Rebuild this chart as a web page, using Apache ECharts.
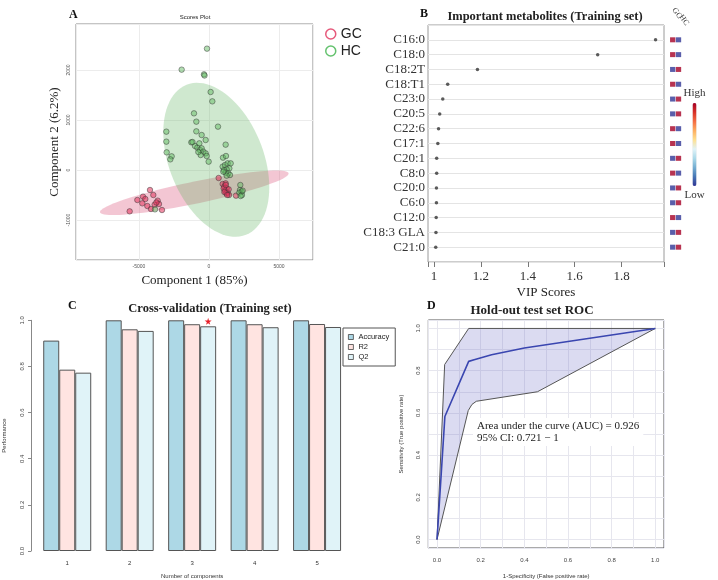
<!DOCTYPE html>
<html>
<head>
<meta charset="utf-8">
<script src="https://cdn.jsdelivr.net/npm/echarts@6/dist/echarts.min.js"></script>
<style>
html,body{margin:0;padding:0;background:#fff}
#main{width:718px;height:580px}
</style>
</head>
<body>
<div id="main"></div>
<script>
// ---- A: scores plot (component 1, component 2) ----
var gcScores = [[-5667,-827],[-5119,-600],[-4714,-533],[-4548,-580],[-4214,-400],[-3976,-500],[-4762,-667],
    [-4405,-720],[-4143,-780],[-3881,-693],[-3667,-613],[-3571,-680],[-3357,-800],[-3760,-650],
    [690,-160],[976,-280],[1095,-333],[1190,-267],[1262,-367],[1143,-413],[1333,-453],[1405,-387],
    [1238,-467],[1048,-367],[1429,-500],[1929,-513],[1100,-440],[1300,-500],[1200,-300]];
var hcScores = [[-143,2427],[-1952,2007],[-357,1913],[-320,1890],[119,1560],[238,1373],[-1071,1133],
    [-905,967],[643,867],[-905,773],[-524,700],[-238,600],[-3048,767],[-3048,567],[-3024,353],
    [-2667,273],[-2762,213],[-1262,553],[-1000,480],[-833,447],[-690,533],[-643,400],[-524,433],
    [-405,367],[-595,300],[-238,333],[-167,280],[-24,167],[1190,507],[1000,247],[1214,280],
    [976,67],[1143,100],[1333,133],[1548,133],[1452,33],[1262,13],[1071,0],[1190,-53],[1381,-67],
    [1500,-100],[1262,-113],[1024,-33],[2238,-300],[2214,-400],[2333,-433],[2167,-453],[2357,-500],
    [2262,-520],[2405,-413],[-3857,-787],[-1180,560],[-760,360]];
// 95% ellipses: centre, semi-major vector, semi-minor vector (data units)
var gcEllipse = {center: [-1050, -456], major: [6736, 390], minor: [157, -216]};
var hcEllipse = {center: [521, 204], major: [2121, -1500], minor: [3136, 348]};

// ---- B: VIP scores ----
var metabolites = ['C16:0','C18:0','C18:2T','C18:T1','C23:0','C20:5','C22:6','C17:1','C20:1','C8:0','C20:0','C6:0','C12:0','C18:3 GLA','C21:0'];
var vipScores = [1.945,1.698,1.185,1.058,1.037,1.024,1.019,1.016,1.011,1.011,1.010,1.010,1.009,1.008,1.007];
var gcLevel = [1,1,0,1,0,0,1,1,0,1,0,0,1,0,0];   // 1 = high, 0 = low
var hcLevel = [0,0,1,0,1,1,0,0,1,0,1,1,0,1,1];

// ---- C: cross validation ----
var components = ['1','2','3','4','5'];
var accuracy = [0.912,1.0,1.0,1.0,1.0];
var r2 = [0.786,0.961,0.983,0.983,0.984];
var q2 = [0.773,0.954,0.974,0.970,0.971];

// ---- D: ROC ----
var rocFpr = [0,0.036,0.145,0.17,0.25,0.4,0.6,0.8,1];
var rocTpr = [0,0.583,0.844,0.852,0.875,0.907,0.938,0.969,1];
var ciUpperFpr = [0,0.035,0.145,1];
var ciUpperTpr = [0,0.829,1,1];
var ciLowerFpr = [0,0.143,0.16,0.18,0.46,1];
var ciLowerTpr = [0,0.611,0.64,0.655,0.70,1];

var SERIF = '"Liberation Serif", "Times New Roman", serif';
var SANS = '"Liberation Sans", Arial, sans-serif';

function pairs(xs, ys) {
    return xs.map(function (x, i) { return [x, ys[i]]; });
}

// ellipse drawn through the axes of the grid
function ellipseSeries(e, color) {
    return {
        type: 'custom', xAxisIndex: 0, yAxisIndex: 0, silent: true, z: 1,
        data: [e.center],
        renderItem: function (params, api) {
            var pts = [];
            for (var k = 0; k <= 90; k++) {
                var t = k / 90 * Math.PI * 2;
                pts.push(api.coord([
                    e.center[0] + Math.cos(t) * e.major[0] + Math.sin(t) * e.minor[0],
                    e.center[1] + Math.cos(t) * e.major[1] + Math.sin(t) * e.minor[1]
                ]));
            }
            return {type: 'polygon', shape: {points: pts}, style: {fill: color}};
        }
    };
}

// hide labels that are not on the wanted step
function stepLabel(step, digits) {
    return function (v) {
        var r = v / step;
        if (Math.abs(r - Math.round(r)) > 1e-6) return '';
        return digits == null ? String(Math.round(v)) : v.toFixed(digits);
    };
}

var padRows = [''].concat(metabolites).concat(['']);
var cellData = [];
metabolites.forEach(function (m, i) {
    cellData.push(['GC', m, gcLevel[i]]);
    cellData.push(['HC', m, hcLevel[i]]);
});

var band = pairs(ciUpperFpr, ciUpperTpr).concat(pairs(ciLowerFpr, ciLowerTpr).reverse());

var mchart = echarts.init(document.getElementById('main'));
var option = {
    animation: false,
    backgroundColor: '#fff',
    grid: [
        {left: 76, top: 24, width: 237, height: 236, show: true, borderColor: '#8a8a8a', borderWidth: 1},   // A
        {left: 428, top: 25, width: 236, height: 237, show: true, borderColor: '#9a9a9a', borderWidth: 1},  // B
        {left: 669.8, top: 25, width: 11.6, height: 237},                                                   // B cells
        {left: 31.8, top: 320.3, width: 316.5, height: 230.7},                                              // C
        {left: 428.3, top: 320, width: 235.7, height: 228.3, show: true, borderColor: '#555', borderWidth: 1} // D
    ],
    xAxis: [
        {gridIndex: 0, type: 'value', min: -9500, max: 7430, splitNumber: 3,
            name: 'Component 1 (85%)', nameLocation: 'middle', nameGap: 14,
            nameTextStyle: {fontFamily: SERIF, fontSize: 13, color: '#222'},
            axisLine: {show: false}, axisTick: {show: false},
            axisLabel: {fontSize: 5, color: '#555', margin: 4, formatter: stepLabel(5000)},
            splitLine: {lineStyle: {color: '#ececec'}}},
        {gridIndex: 1, type: 'value', min: 0.974, max: 1.981, splitNumber: 5,
            name: 'VIP Scores', nameLocation: 'middle', nameGap: 24,
            nameTextStyle: {fontFamily: SERIF, fontSize: 13, color: '#222'},
            axisLine: {show: false}, axisTick: {show: true, length: 5, lineStyle: {color: '#777'}},
            axisLabel: {fontFamily: SERIF, fontSize: 13, color: '#333', margin: 8, formatter: function (v) {
                var r = v / 0.2;
                if (Math.abs(r - Math.round(r)) > 1e-6) return '';
                return Math.abs(v - 1) < 1e-6 ? '1' : v.toFixed(1);
            }},
            splitLine: {show: false}},
        {gridIndex: 2, type: 'category', data: ['GC', 'HC'], show: false},
        {gridIndex: 3, type: 'category', data: components,
            name: 'Number of components', nameLocation: 'middle', nameGap: 22,
            nameTextStyle: {fontFamily: SANS, fontSize: 6, color: '#333'},
            axisLine: {show: false}, axisTick: {show: false},
            axisLabel: {fontFamily: SANS, fontSize: 6, color: '#333', margin: 9}},
        {gridIndex: 4, type: 'value', min: -0.04, max: 1.04, splitNumber: 10,
            name: '1-Specificity (False positive rate)', nameLocation: 'middle', nameGap: 25,
            nameTextStyle: {fontFamily: SANS, fontSize: 6, color: '#333'},
            axisLine: {show: false}, axisTick: {show: false},
            axisLabel: {fontFamily: SANS, fontSize: 6, color: '#444', margin: 9, formatter: stepLabel(0.2, 1)},
            splitLine: {lineStyle: {color: '#e6e6ee'}}}
    ],
    yAxis: [
        {gridIndex: 0, type: 'value', min: -1800, max: 2920, splitNumber: 4,
            name: 'Component 2 (6.2%)', nameLocation: 'middle', nameGap: 15,
            nameTextStyle: {fontFamily: SERIF, fontSize: 13, color: '#222'},
            axisLine: {show: false}, axisTick: {show: false},
            axisLabel: {fontSize: 5, color: '#555', margin: 5, rotate: 90, formatter: stepLabel(1000)},
            splitLine: {lineStyle: {color: '#ececec'}}},
        {gridIndex: 1, type: 'category', data: padRows, boundaryGap: false, inverse: true,
            axisLine: {show: false}, axisTick: {show: false},
            axisLabel: {fontFamily: SERIF, fontSize: 13, color: '#333', margin: 3, interval: 0},
            splitLine: {show: true, interval: 0, lineStyle: {color: '#e4e4e4'}}},
        {gridIndex: 2, type: 'category', data: padRows, boundaryGap: false, inverse: true, show: false},
        {gridIndex: 3, type: 'value', min: 0, max: 1, interval: 0.2, offset: 5,
            name: 'Performance', nameLocation: 'middle', nameGap: 24,
            nameTextStyle: {fontFamily: SANS, fontSize: 6, color: '#333'},
            axisLine: {show: true, lineStyle: {color: '#888'}},
            axisTick: {show: true, length: 3, lineStyle: {color: '#888'}},
            axisLabel: {fontFamily: SANS, fontSize: 6, color: '#444', margin: 6, rotate: 90,
                formatter: function (v) { return v.toFixed(1); }},
            splitLine: {show: false}},
        {gridIndex: 4, type: 'value', min: -0.04, max: 1.04, splitNumber: 10,
            name: 'Sensitivity (True positive rate)', nameLocation: 'middle', nameGap: 24,
            nameTextStyle: {fontFamily: SANS, fontSize: 6, color: '#333'},
            axisLine: {show: false}, axisTick: {show: false},
            axisLabel: {fontFamily: SANS, fontSize: 6, color: '#444', margin: 7, rotate: 90, formatter: stepLabel(0.2, 1)},
            splitLine: {lineStyle: {color: '#e6e6ee'}}}
    ],
    legend: [
        {   // A
            left: 320, top: 22, orient: 'vertical', itemGap: 3, itemWidth: 10, itemHeight: 10,
            textStyle: {fontFamily: SANS, fontSize: 14, color: '#222'},
            data: [
                {name: 'GC', icon: 'circle', itemStyle: {color: '#fff', borderColor: '#e0305a', borderWidth: 1.5}},
                {name: 'HC', icon: 'circle', itemStyle: {color: '#fff', borderColor: '#3db34a', borderWidth: 1.5}}
            ]
        },
        {   // C
            left: 343, top: 328, orient: 'vertical', itemGap: 2, itemWidth: 5, itemHeight: 5,
            padding: [5, 6, 5, 5], borderColor: '#555', borderWidth: 1, backgroundColor: '#fff',
            textStyle: {fontFamily: SANS, fontSize: 7.5, color: '#222'},
            data: [
                {name: 'Accuracy', icon: 'rect', itemStyle: {borderColor: '#444', borderWidth: 0.8}},
                {name: 'R2', icon: 'rect', itemStyle: {borderColor: '#444', borderWidth: 0.8}},
                {name: 'Q2', icon: 'rect', itemStyle: {borderColor: '#444', borderWidth: 0.8}}
            ]
        }
    ],
    visualMap: [{
        type: 'continuous', seriesIndex: 5, dimension: 2, min: 0, max: 1,
        calculable: false, hoverLink: false, realtime: false,
        left: 668.5, top: 73, itemWidth: 4, itemHeight: 83, textGap: 4,
        text: ['High', 'Low'],
        textStyle: {fontFamily: SERIF, fontSize: 11, color: '#333'},
        inRange: {color: ['#313695','#4575b4','#74add1','#abd9e9','#e0f3f8','#fee090','#fdae61','#f46d43','#d73027','#a50026']}
    }],
    series: [
        ellipseSeries(gcEllipse, 'rgba(215,65,108,0.3)'),
        ellipseSeries(hcEllipse, 'rgba(95,178,95,0.3)'),
        {name: 'GC', type: 'scatter', xAxisIndex: 0, yAxisIndex: 0, data: gcScores, symbolSize: 5.5, z: 3,
            itemStyle: {color: 'rgba(226,55,95,0.7)', borderColor: '#333', borderWidth: 0.6}},
        {name: 'HC', type: 'scatter', xAxisIndex: 0, yAxisIndex: 0, data: hcScores, symbolSize: 5.5, z: 3,
            itemStyle: {color: 'rgba(95,185,95,0.6)', borderColor: '#333', borderWidth: 0.6}},
        {name: 'VIP', type: 'scatter', xAxisIndex: 1, yAxisIndex: 1, symbolSize: 3.5,
            data: metabolites.map(function (m, i) { return [vipScores[i], m]; }),
            itemStyle: {color: '#333'}},
        {name: 'Level', type: 'scatter', xAxisIndex: 2, yAxisIndex: 2, symbol: 'rect', symbolSize: [5.3, 5],
            data: cellData},
        {name: 'Accuracy', type: 'bar', xAxisIndex: 3, yAxisIndex: 3, data: accuracy, barWidth: 16, barGap: '0%',
            itemStyle: {color: '#add8e6', borderColor: '#555', borderWidth: 1}},
        {name: 'R2', type: 'bar', xAxisIndex: 3, yAxisIndex: 3, data: r2, barWidth: 16, barGap: '0%',
            itemStyle: {color: '#ffe4e1', borderColor: '#555', borderWidth: 1}},
        {name: 'Q2', type: 'bar', xAxisIndex: 3, yAxisIndex: 3, data: q2, barWidth: 16, barGap: '0%',
            itemStyle: {color: '#e0f3f8', borderColor: '#555', borderWidth: 1},
            markPoint: {
                symbol: 'path://M50,0 L61,35 L98,35 L68,57 L79,91 L50,70 L21,91 L32,57 L2,35 L39,35 Z',
                symbolSize: 7, symbolOffset: [0, -5], label: {show: false},
                itemStyle: {color: '#e8202a'},
                data: [{type: 'max'}]
            }},
        {name: 'CI', type: 'custom', xAxisIndex: 4, yAxisIndex: 4, silent: true, z: 1,
            data: [band[0]],
            renderItem: function (params, api) {
                return {type: 'polygon', shape: {points: band.map(function (p) { return api.coord(p); })},
                    style: {fill: 'rgba(110,110,200,0.25)'}};
            }},
        {name: 'CI upper', type: 'line', xAxisIndex: 4, yAxisIndex: 4, data: pairs(ciUpperFpr, ciUpperTpr),
            showSymbol: false, lineStyle: {color: '#555', width: 1}, z: 2},
        {name: 'CI lower', type: 'line', xAxisIndex: 4, yAxisIndex: 4, data: pairs(ciLowerFpr, ciLowerTpr),
            showSymbol: false, lineStyle: {color: '#555', width: 1}, z: 2},
        {name: 'ROC', type: 'line', xAxisIndex: 4, yAxisIndex: 4, data: pairs(rocFpr, rocTpr),
            showSymbol: false, lineStyle: {color: '#3a46b0', width: 1.6}, z: 3}
    ],
    graphic: [
        {type: 'text', x: 69, y: 15, style: {text: 'A', font: 'bold 12px ' + SERIF, fill: '#111', textVerticalAlign: 'middle'}},
        {type: 'text', x: 195, y: 17, style: {text: 'Scores Plot', font: '6px ' + SANS, fill: '#222', textAlign: 'center', textVerticalAlign: 'middle'}},
        {type: 'text', x: 420, y: 14, style: {text: 'B', font: 'bold 12px ' + SERIF, fill: '#111', textVerticalAlign: 'middle'}},
        {type: 'text', x: 545, y: 17, style: {text: 'Important metabolites (Training set)', font: 'bold 12.5px ' + SERIF, fill: '#222', textAlign: 'center', textVerticalAlign: 'middle'}},
        {type: 'text', x: 677, y: 13, rotation: -55 * Math.PI / 180, style: {text: 'GC', font: '8px ' + SERIF, fill: '#333', textAlign: 'center', textVerticalAlign: 'middle'}},
        {type: 'text', x: 684, y: 20, rotation: -55 * Math.PI / 180, style: {text: 'HC', font: '8px ' + SERIF, fill: '#333', textAlign: 'center', textVerticalAlign: 'middle'}},
        {type: 'text', x: 68, y: 306, style: {text: 'C', font: 'bold 12px ' + SERIF, fill: '#111', textVerticalAlign: 'middle'}},
        {type: 'text', x: 210, y: 309, style: {text: 'Cross-validation (Training set)', font: 'bold 12.5px ' + SERIF, fill: '#222', textAlign: 'center', textVerticalAlign: 'middle'}},
        {type: 'text', x: 427, y: 306, style: {text: 'D', font: 'bold 12px ' + SERIF, fill: '#111', textVerticalAlign: 'middle'}},
        {type: 'text', x: 532, y: 311, style: {text: 'Hold-out test set ROC', font: 'bold 13px ' + SERIF, fill: '#222', textAlign: 'center', textVerticalAlign: 'middle'}},
        {type: 'text', x: 473, y: 418, z: 10, style: {text: 'Area under the curve (AUC) = 0.926\n95% CI: 0.721 \u2212 1',
            font: '11px ' + SERIF, lineHeight: 12, fill: '#222', backgroundColor: '#fff', padding: [2, 4, 2, 4]}}
    ]
};
mchart.setOption(option);
</script>
</body>
</html>
